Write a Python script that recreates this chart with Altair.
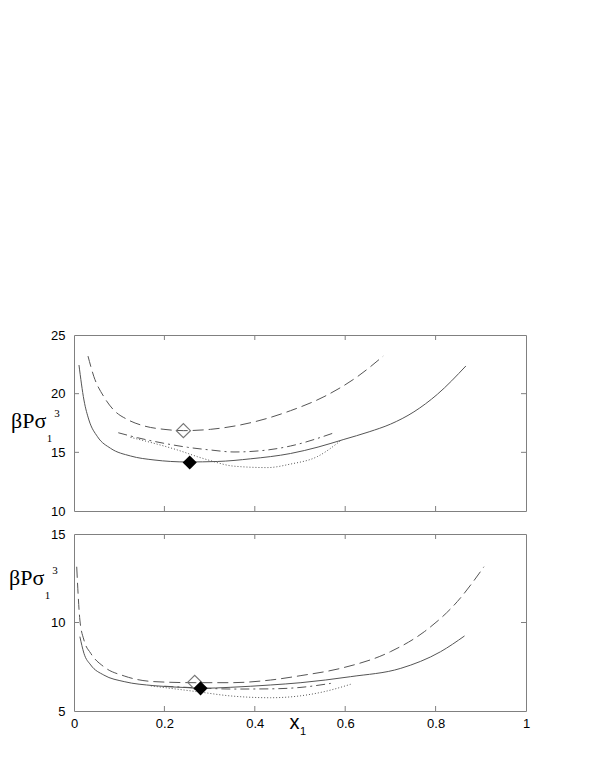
import altair as alt
import pandas as pd

# ---------------- data ----------------
X_TICKS = [0, 0.2, 0.4, 0.6, 0.8, 1]
INNER_X_TICKS = [0.2, 0.4, 0.6, 0.8]
TOP_Y_TICKS = [10, 15, 20, 25]
TOP_INNER_Y = [15, 20]
BOT_Y_TICKS = [5, 10, 15]
BOT_INNER_Y = [10]

# top panel
top_solid_x = [0.011, 0.022, 0.033, 0.052, 0.081, 0.125, 0.177, 0.251, 0.317, 0.391, 0.479, 0.54, 0.597, 0.653, 0.70, 0.752, 0.804, 0.867]
top_solid_v = [22.44, 19.46, 17.76, 16.33, 15.34, 14.69, 14.35, 14.18, 14.22, 14.45, 14.9, 15.45, 16.1, 16.75, 17.4, 18.45, 19.95, 22.36]

top_dash_x = [0.031, 0.044, 0.066, 0.088, 0.118, 0.155, 0.199, 0.242, 0.302, 0.428, 0.479, 0.553, 0.627, 0.684]
top_dash_v = [23.2, 21.45, 19.74, 18.6, 17.8, 17.25, 16.96, 16.85, 16.96, 17.9, 18.55, 19.74, 21.45, 23.2]

top_dashdot_x = [0.098, 0.14, 0.199, 0.251, 0.302, 0.354, 0.428, 0.479, 0.572]
top_dashdot_v = [16.67, 16.25, 15.77, 15.43, 15.2, 15.03, 15.2, 15.54, 16.62]

top_dot_x = [0.125, 0.177, 0.229, 0.273, 0.302, 0.354, 0.428, 0.479, 0.538, 0.59]
top_dot_v = [16.28, 15.77, 15.2, 14.63, 14.29, 13.82, 13.7, 14.0, 14.63, 16.0]

top_open_x = [0.242]
top_open_v = [16.85]
top_fill_x = [0.256]
top_fill_v = [14.13]

# bottom panel
bot_solid_x = [0.013, 0.022, 0.037, 0.066, 0.111, 0.177, 0.251, 0.28, 0.347, 0.435, 0.502, 0.612, 0.723, 0.811, 0.864]
bot_solid_v = [9.2, 8.26, 7.6, 7.03, 6.66, 6.43, 6.32, 6.28, 6.34, 6.47, 6.6, 6.94, 7.41, 8.35, 9.24]

bot_dash_x = [0.006, 0.009, 0.013, 0.022, 0.037, 0.066, 0.111, 0.177, 0.268, 0.347, 0.435, 0.502, 0.59, 0.70, 0.775, 0.848, 0.907]
bot_dash_v = [13.15, 11.65, 10.14, 9.01, 8.26, 7.5, 6.98, 6.66, 6.6, 6.6, 6.75, 7.0, 7.41, 8.35, 9.48, 11.18, 13.15]

bot_dashdot_x = [0.2, 0.28, 0.35, 0.43, 0.5, 0.568]
bot_dashdot_v = [6.4, 6.3, 6.24, 6.25, 6.33, 6.56]

bot_dot_x = [0.17, 0.273, 0.347, 0.435, 0.502, 0.553, 0.612]
bot_dot_v = [6.42, 6.09, 5.85, 5.75, 5.86, 6.09, 6.51]

bot_open_x = [0.267]
bot_open_v = [6.62]
bot_fill_x = [0.28]
bot_fill_v = [6.28]

Y_LABEL = ["βPσ"]
Y_SUB = ["1"]
Y_SUP = ["3"]
X_LABEL = ["x"]
X_SUB = ["1"]

# ---------------- styling ----------------
W = 452
LINE = "#555555"
FRAME = "#808080"
SANS = "Liberation Sans"
SERIF = "Liberation Serif"


def panel(height, ydomain, yticks, inner_y, series, open_pt, fill_pt, show_x, lab):
    xscale = alt.Scale(domain=[0, 1], nice=False, zero=False)
    yscale = alt.Scale(domain=ydomain, nice=False, zero=False)
    xaxis = alt.Axis(values=X_TICKS, format="~g", labels=show_x, ticks=False, tickSize=0,
                     domain=False, grid=False, title=None, labelFlush=False, labelPadding=6,
                     labelFont=SANS, labelFontSize=13, labelColor="black")
    yaxis = alt.Axis(values=yticks, format="d", ticks=False, tickSize=0, domain=False,
                     grid=False, title=None, labelPadding=9, labelFont=SANS,
                     labelFontSize=13, labelColor="black", labelFlush=False)

    def X(f):
        return alt.X(f, type="quantitative", scale=xscale, axis=xaxis)

    def Y(f):
        return alt.Y(f, type="quantitative", scale=yscale, axis=yaxis)

    layers = []
    for xs, vs, dash in series:
        df = pd.DataFrame({"x": xs, "v": vs})
        kw = dict(color=LINE, strokeWidth=1, interpolate="monotone")
        if dash:
            kw["strokeDash"] = dash
        layers.append(alt.Chart(df).mark_line(**kw).encode(x=X("x"), y=Y("v")))

    odf = pd.DataFrame({"x": open_pt[0], "v": open_pt[1]})
    layers.append(alt.Chart(odf).mark_point(shape="diamond", size=200, filled=False,
                                            color="#777777", strokeWidth=1.2, opacity=1)
                  .encode(x=X("x"), y=Y("v")))
    fdf = pd.DataFrame({"x": fill_pt[0], "v": fill_pt[1]})
    layers.append(alt.Chart(fdf).mark_point(shape="diamond", size=200, filled=True,
                                            color="black", opacity=1)
                  .encode(x=X("x"), y=Y("v")))

    # inward ticks
    xt = pd.DataFrame({"t": INNER_X_TICKS})
    layers.append(alt.Chart(xt).mark_rule(color=FRAME, strokeWidth=1)
                  .encode(x=X("t"), y=alt.value(0), y2=alt.value(5)))
    layers.append(alt.Chart(xt).mark_rule(color=FRAME, strokeWidth=1)
                  .encode(x=X("t"), y=alt.value(height), y2=alt.value(height - 5)))
    yt = pd.DataFrame({"t": inner_y})
    layers.append(alt.Chart(yt).mark_rule(color=FRAME, strokeWidth=1)
                  .encode(y=Y("t"), x=alt.value(0), x2=alt.value(5)))
    layers.append(alt.Chart(yt).mark_rule(color=FRAME, strokeWidth=1)
                  .encode(y=Y("t"), x=alt.value(W), x2=alt.value(W - 5)))

    # y label  βPσ_1^3
    lx, ly = lab
    layers.append(alt.Chart(pd.DataFrame({"t": Y_LABEL})).mark_text(
        font=SERIF, fontSize=22, align="left", baseline="alphabetic", color="black")
        .encode(x=alt.value(lx), y=alt.value(ly), text="t:N"))
    layers.append(alt.Chart(pd.DataFrame({"t": Y_SUB})).mark_text(
        font=SERIF, fontSize=11, align="center", baseline="alphabetic", color="black")
        .encode(x=alt.value(lx + 38.5), y=alt.value(ly + 14), text="t:N"))
    layers.append(alt.Chart(pd.DataFrame({"t": Y_SUP})).mark_text(
        font=SERIF, fontSize=11, align="center", baseline="alphabetic", color="black")
        .encode(x=alt.value(lx + 46), y=alt.value(ly - 11), text="t:N"))

    if show_x:
        layers.append(alt.Chart(pd.DataFrame({"t": X_LABEL})).mark_text(
            font=SANS, fontSize=20, align="center", baseline="alphabetic", color="black")
            .encode(x=alt.value(220.5), y=alt.value(height + 18), text="t:N"))
        layers.append(alt.Chart(pd.DataFrame({"t": X_SUB})).mark_text(
            font=SANS, fontSize=11, align="center", baseline="alphabetic", color="black")
            .encode(x=alt.value(229), y=alt.value(height + 24), text="t:N"))

    return alt.layer(*layers).properties(width=W, height=height)


top = panel(176, [10, 25], TOP_Y_TICKS, TOP_INNER_Y,
            [(top_solid_x, top_solid_v, None),
             (top_dash_x, top_dash_v, [11, 5]),
             (top_dashdot_x, top_dashdot_v, [9, 4, 2, 4]),
             (top_dot_x, top_dot_v, [1, 2])],
            (top_open_x, top_open_v), (top_fill_x, top_fill_v), False, (-63, 93))

bottom = panel(177, [5, 15], BOT_Y_TICKS, BOT_INNER_Y,
               [(bot_solid_x, bot_solid_v, None),
                (bot_dash_x, bot_dash_v, [11, 5]),
                (bot_dashdot_x, bot_dashdot_v, [9, 4, 2, 4]),
                (bot_dot_x, bot_dot_v, [1, 2])],
               (bot_open_x, bot_open_v), (bot_fill_x, bot_fill_v), True, (-65, 51))

chart = alt.vconcat(top, bottom, spacing=23, bounds="flush").properties(
    padding={"left": 0, "top": 320, "right": 5, "bottom": 5},
    background="white",
).configure_view(stroke=FRAME, strokeWidth=1)

chart.save("out.html", embed_options={"renderer": "svg", "actions": False})
